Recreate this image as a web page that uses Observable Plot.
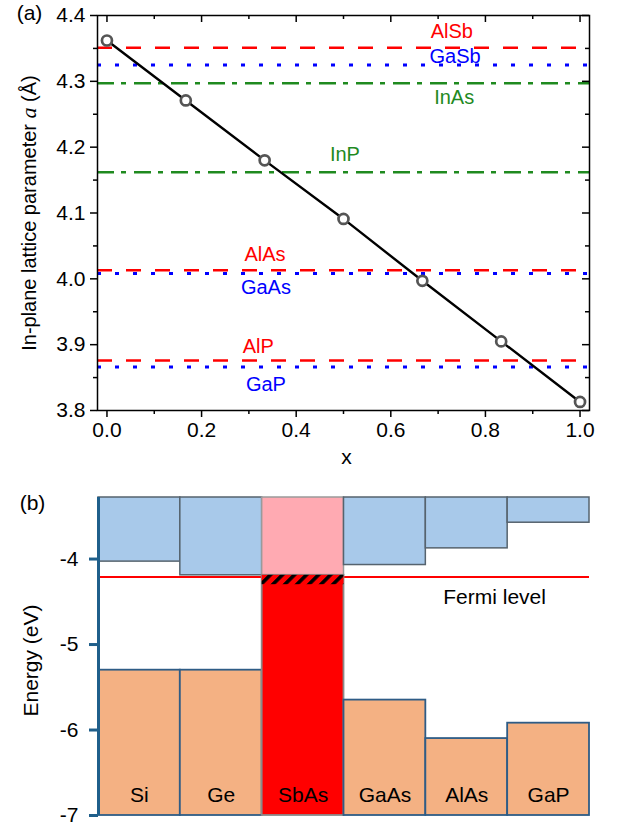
<!DOCTYPE html>
<html><head><meta charset="utf-8">
<script src="https://cdn.jsdelivr.net/npm/d3@7"></script>
<script src="https://cdn.jsdelivr.net/npm/@observablehq/plot@0.6"></script>
<style>
body{margin:0;background:#fff;}
#chart{width:622px;}
#chart svg{display:block;}
</style></head><body><div id="chart"></div>
<script>
// ---------- Panel (a) data ----------
const compositionX = [0, 1/6, 2/6, 3/6, 4/6, 5/6, 1];
const latticeA = [4.362, 4.271, 4.180, 4.091, 3.997, 3.905, 3.813];
const refNames = ["AlSb", "GaSb", "InAs", "InP", "AlAs", "GaAs", "AlP", "GaP"];
const refValues = [4.351, 4.325, 4.297, 4.162, 4.013, 4.008, 3.876, 3.866];
const refStyles = ["dash", "dot", "dashdot", "dashdot", "dash", "dot", "dash", "dot"];
const refLabelX = [0.729, 0.736, 0.734, 0.503, 0.334, 0.336, 0.320, 0.336];
const refLabelY = [4.375, 4.337, 4.276, 4.188, 4.037, 3.986, 3.897, 3.839];
const xTicksA = [0, 0.2, 0.4, 0.6, 0.8, 1.0];
const xMinorTicksA = [0.1, 0.3, 0.5, 0.7, 0.9];
const yTicksA = [3.8, 3.9, 4.0, 4.1, 4.2, 4.3, 4.4];
const yMinorTicksA = [3.85, 3.95, 4.05, 4.15, 4.25, 4.35];
const yTitleParts = ["In-plane lattice parameter ", "a", " (Å)"];

// ---------- Panel (b) data ----------
const materials = ["Si", "Ge", "SbAs", "GaAs", "AlAs", "GaP"];
const cbmValues = [-4.03, -4.19, -4.19, -4.07, -3.875, -3.575];
const vbmValues = [-5.30, -5.30, -4.19, -5.65, -6.10, -5.92];
const fermiLevel = -4.21;
const hatchDepth = 0.11;
const energyMin = -7, energyMax = -3.28;
const yTicksB = [-7, -6, -5, -4];

// ---------- styling ----------
const font = "'Liberation Sans', Arial, sans-serif";
const styleColor = {dash: "#ff0000", dot: "#0000ff", dashdot: "#1f8a1f"};
const styleDash = {dash: "15,14", dot: "4,14", dashdot: "17,7,5,8"};
const W = 622;

// ---------- Panel (a) ----------
const A = {h: 470, ml: 97, mr: 33, mt: 15, mb: 60};
const fwA = W - A.ml - A.mr, fhA = A.h - A.mt - A.mb;
const pointsA = compositionX.map((x, i) => ({x, a: latticeA[i]}));
const refs = refNames.map((name, i) => ({name, a: refValues[i], style: refStyles[i], lx: refLabelX[i], ly: refLabelY[i]}));

const tickOpts = {stroke: "black", strokeWidth: 1.5};
const centered = {textAnchor: "middle", lineAnchor: "middle"};
const plotA = Plot.plot({
  width: W, height: A.h,
  marginLeft: A.ml, marginRight: A.mr, marginTop: A.mt, marginBottom: A.mb,
  style: {fontFamily: font, fontSize: "21px", color: "black", background: "white", overflow: "visible"},
  x: {domain: [-0.02, 1.02], axis: null},
  y: {domain: [3.8, 4.4], axis: null},
  marks: [
    ...["dash", "dot", "dashdot"].map(s => Plot.ruleY(refs.filter(d => d.style === s), {
      y: "a", stroke: styleColor[s], strokeWidth: s === "dot" ? 3 : 2.6, strokeDasharray: styleDash[s]
    })),
    Plot.text(refs, {x: "lx", y: "ly", text: "name", fill: d => styleColor[d.style], fontSize: 20}),
    Plot.line(pointsA, {x: "x", y: "a", stroke: "black", strokeWidth: 2.4}),
    Plot.dot(pointsA, {x: "x", y: "a", r: 5, stroke: "#555", strokeWidth: 2.7, fill: "white"}),
    Plot.frame({stroke: "black", strokeWidth: 1.5}),
    // bottom ticks (outward)
    Plot.tickX(xTicksA, {x: d => d, ...tickOpts, insetTop: fhA, insetBottom: -7}),
    Plot.tickX(xMinorTicksA, {x: d => d, ...tickOpts, insetTop: fhA, insetBottom: -4}),
    // top ticks (inward)
    Plot.tickX(xTicksA, {x: d => d, ...tickOpts, insetTop: 0, insetBottom: fhA - 7}),
    Plot.tickX(xMinorTicksA, {x: d => d, ...tickOpts, insetTop: 0, insetBottom: fhA - 4}),
    // left ticks (outward)
    Plot.tickY(yTicksA, {y: d => d, ...tickOpts, insetLeft: -7, insetRight: fwA}),
    Plot.tickY(yMinorTicksA, {y: d => d, ...tickOpts, insetLeft: -4, insetRight: fwA}),
    // right ticks (inward)
    Plot.tickY(yTicksA, {y: d => d, ...tickOpts, insetLeft: fwA - 7, insetRight: 0}),
    Plot.tickY(yMinorTicksA, {y: d => d, ...tickOpts, insetLeft: fwA - 4, insetRight: 0}),
    Plot.axisX(xTicksA, {anchor: "bottom", tickSize: 0, tickPadding: 12, tickFormat: d3.format(".1f"), label: null, fontSize: 21}),
    Plot.axisY(yTicksA, {anchor: "left", tickSize: 0, tickPadding: 12, tickFormat: d3.format(".1f"), label: null, fontSize: 21}),
    Plot.text(["x"], {text: d => d, frameAnchor: "bottom", dx: 3, dy: 47, fontSize: 21, ...centered}),
    Plot.text(["(a)"], {text: d => d, frameAnchor: "top-left", dx: -68, dy: -2, fontSize: 21, ...centered}),
    Plot.text([yTitleParts.join("")], {text: d => d, frameAnchor: "left", dx: -68, rotate: -90, fontSize: 20, ...centered})
  ]
});

// italic "a" in the axis title
d3.select(plotA).selectAll("text").filter(function() { return this.textContent === yTitleParts.join(""); })
  .each(function() {
    const t = d3.select(this);
    t.text(null);
    t.append("tspan").text(yTitleParts[0]);
    t.append("tspan").text(yTitleParts[1]).attr("font-style", "italic").attr("font-family", "'Liberation Serif', 'Times New Roman', serif").attr("font-size", 22);
    t.append("tspan").text(yTitleParts[2]);
  });

// ---------- Panel (b) ----------
const B = {h: 357, ml: 98, mr: 33, mt: 27, mb: 12};
const fwB = W - B.ml - B.mr;
const bands = materials.map((m, i) => ({m, i, cbm: cbmValues[i], vbm: vbmValues[i]}));
const axisBlue = "#1f5f8b";

const plotB = Plot.plot({
  width: W, height: B.h,
  marginLeft: B.ml, marginRight: B.mr, marginTop: B.mt, marginBottom: B.mb,
  style: {fontFamily: font, fontSize: "21px", color: "black", background: "white", overflow: "visible"},
  x: {domain: [0, materials.length], axis: null},
  y: {domain: [energyMin, energyMax], axis: null},
  marks: [
    Plot.ruleY([fermiLevel], {stroke: "#ff0000", strokeWidth: 2.2}),
    Plot.rect(bands, {
      x1: "i", x2: d => d.i + 1, y1: "cbm", y2: energyMax,
      fill: d => d.m === "SbAs" ? "#ffaab2" : "#a8c9ea",
      stroke: d => d.m === "SbAs" ? "#9a9a9a" : "#56636e", strokeWidth: 1.5
    }),
    Plot.rect(bands, {
      x1: "i", x2: d => d.i + 1, y1: energyMin, y2: "vbm",
      fill: d => d.m === "SbAs" ? "#ff0000" : "#f4b183",
      stroke: d => d.m === "SbAs" ? "#8a8a8a" : "#2e5c86", strokeWidth: 1.8
    }),
    Plot.rect(bands.filter(d => d.m === "SbAs"), {
      x1: "i", x2: d => d.i + 1, y1: d => d.vbm - hatchDepth, y2: "vbm", fill: "url(#hatch)"
    }),
    Plot.text(bands, {x: d => d.i + 0.5, y: energyMin, dy: -20, text: "m", fontSize: 21, fill: "black"}),
    Plot.text(["Fermi level"], {text: d => d, x: 4.84, y: -4.45, fontSize: 21, fill: "black"}),
    Plot.ruleX([0], {stroke: axisBlue, strokeWidth: 3}),
    Plot.tickY(yTicksB, {y: d => d, stroke: axisBlue, strokeWidth: 3, insetLeft: -9, insetRight: fwB}),
    Plot.axisY(yTicksB, {anchor: "left", tickSize: 0, tickPadding: 20, tickFormat: d => String(d), label: null, fontSize: 21}),
    Plot.text(["(b)"], {text: d => d, frameAnchor: "top-left", dx: -66, dy: 6, fontSize: 21, ...centered}),
    Plot.text(["Energy (eV)"], {text: d => d, frameAnchor: "left", dx: -67, dy: 4, rotate: -90, fontSize: 21, ...centered})
  ]
});

// hatch pattern definition
d3.select(plotB).insert("defs", ":first-child").html(
  '<pattern id="hatch" patternUnits="userSpaceOnUse" width="8.5" height="8.5" patternTransform="rotate(45)">' +
  '<rect x="0" y="0" width="8.5" height="8.5" fill="#ff0000"/>' +
  '<rect x="0" y="0" width="3.6" height="8.5" fill="black"/></pattern>'
);

const chart = document.getElementById("chart");
chart.appendChild(plotA);
chart.appendChild(plotB);
</script>
</body></html>
